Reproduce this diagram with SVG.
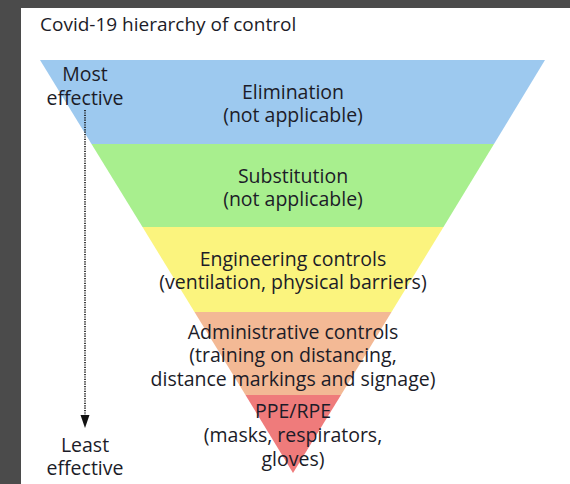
<svg xmlns="http://www.w3.org/2000/svg" width="570" height="484" viewBox="0 0 570 484">
<defs>
<style>
text{font-family:"Open Sans","Noto Sans",sans-serif;font-size:19.5px;fill:#1c1c28}
.c{text-anchor:middle}
</style>
</defs>
<rect x="0" y="0" width="570" height="484" fill="#4b4b4b"/>
<rect x="21" y="8" width="549" height="476" fill="#ffffff"/>
<text x="40" y="31" style="font-size:19px">Covid-19 hierarchy of control</text>
<g id="elimination">
<polygon points="40,60 545,60 494,144 91.5,144" fill="#9dc9ef"/>
<text class="c" x="293" y="99">Elimination</text>
<text class="c" x="293" y="122">(not applicable)</text>
</g>
<g id="substitution">
<polygon points="91.5,144 494,144 443.5,227 142.5,227" fill="#a8ef8e"/>
<text class="c" x="293" y="183">Substitution</text>
<text class="c" x="293" y="206">(not applicable)</text>
</g>
<g id="engineering">
<polygon points="142.5,227 443.5,227 391.5,312 194.5,312" fill="#fbf47e"/>
<text class="c" x="293" y="266">Engineering controls</text>
<text class="c" x="293" y="289">(ventilation, physical barriers)</text>
</g>
<g id="administrative">
<polygon points="194.5,312 391.5,312 341,395 245.5,395" fill="#f3b995"/>
<text class="c" x="293" y="339">Administrative controls</text>
<text class="c" x="293" y="362">(training on distancing,</text>
<text class="c" x="293" y="386">distance markings and signage)</text>
</g>
<g id="ppe">
<polygon points="245.5,395 341,395 293,473" fill="#ef7b7b"/>
<text class="c" x="293" y="418">PPE/RPE</text>
<text class="c" x="293" y="442">(masks, respirators,</text>
<text class="c" x="293" y="466">gloves)</text>
</g>
<g id="most">
<text class="c" x="85" y="81">Most</text>
<text class="c" x="85" y="105">effective</text>
</g>
<g id="least">
<text class="c" x="85" y="452">Least</text>
<text class="c" x="85" y="475">effective</text>
</g>
<g id="connectors">
<line x1="85" y1="110" x2="85" y2="416" stroke="#111" stroke-width="1.6" stroke-dasharray="1.2,1.2"/>
<polygon points="80.5,415 89.5,415 85,428" fill="#111"/>
</g>
</svg>
